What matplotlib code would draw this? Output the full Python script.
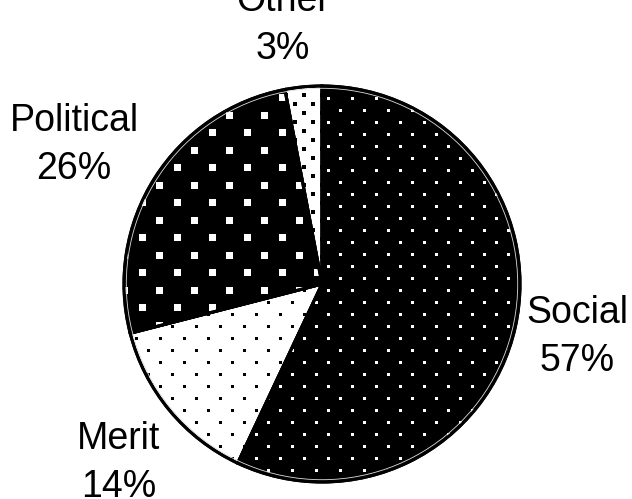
import numpy as np
import matplotlib
matplotlib.use('Agg')
import matplotlib.pyplot as plt
from matplotlib.patches import Circle, Wedge

categories = ['Social', 'Merit', 'Political', 'Other']
shares = [57, 14, 26, 3]

# fill colour, dot colour, dot size (px), in-row spacing (px), row spacing (px)
textures = [
    ('black', 'white', 3.0, 24, 12),
    ('white', 'black', 3.0, 24, 12),
    ('black', 'white', 7.0, 35, 17.5),
    ('white', 'black', 4.0, 18, 9),
]

# label anchors (baseline of the last line), in pixel units
label_x = [577, 119, 74, 283]
label_y = [128, 2, 320, 440]

W, H = 632, 499
CX, CY, R = 322, 215, 198

fig = plt.figure(figsize=(W / 100, H / 100), dpi=100)
ax = fig.add_axes([0, 0, 1, 1])

wedges, _ = ax.pie(shares, colors=[t[0] for t in textures], startangle=90,
                   counterclock=False, center=(CX, CY), radius=R,
                   wedgeprops=dict(edgecolor='black', linewidth=2.2))

px_to_pt = 72 / 100
for w, (face, dot, size, dx, dy) in zip(wedges, textures):
    w.set_zorder(1)
    ys = np.arange(CY - R - dy, CY + R + dy, dy)
    xs_all, ys_all = [], []
    for j, y in enumerate(ys):
        xs = np.arange(CX - R - dx, CX + R + dx, dx) + (j % 2) * dx / 2
        xs_all.extend(xs)
        ys_all.extend([y] * len(xs))
    sc = ax.scatter(xs_all, ys_all, s=(size * px_to_pt) ** 2, marker='s',
                    c=dot, linewidths=0, zorder=2)
    sc.set_clip_path(w)

# outline redrawn on top, with the thin light line just inside the rim
for w in wedges:
    ax.add_patch(Wedge(w.center, w.r, w.theta1, w.theta2, facecolor='none',
                       edgecolor='black', linewidth=2.2, zorder=3))
ax.add_patch(Circle((CX, CY), R - 2.3, facecolor='none', edgecolor='#dddddd',
                    linewidth=0.6, zorder=3))

for cat, val, x, y in zip(categories, shares, label_x, label_y):
    ax.text(x, y, f'{cat}\n{val}%', ha='center', va='baseline',
            fontsize=27, family='Liberation Sans', linespacing=1.42,
            multialignment='center', zorder=4)

ax.set_xlim(0, W)
ax.set_ylim(0, H)
ax.set_aspect('auto')
ax.axis('off')

fig.savefig('out.png', dpi=100)
